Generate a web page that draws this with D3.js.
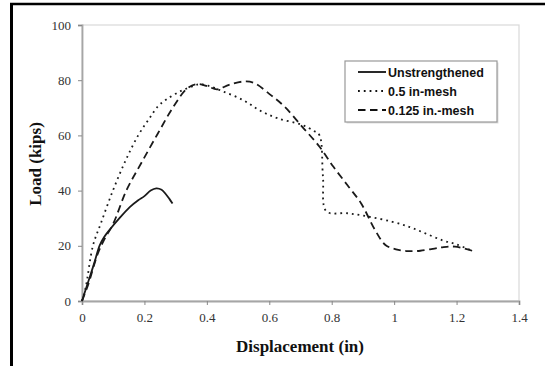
<!DOCTYPE html>
<html>
<head>
<meta charset="utf-8">
<script src="https://cdn.jsdelivr.net/npm/d3@7"></script>
<style>
  html, body { margin: 0; padding: 0; background: #fff; }
  svg { display: block; }
  .axis text { font-family: "Liberation Serif", "Times New Roman", serif; font-size: 13px; fill: #333; }
</style>
</head>
<body>
<svg id="chart" width="545" height="366"></svg>
<script>
// ---- data ----
const xTicks = [0, 0.2, 0.4, 0.6, 0.8, 1, 1.2, 1.4];
const yTicks = [0, 20, 40, 60, 80, 100];
const seriesNames = ["Unstrengthened", "0.5 in-mesh", "0.125 in.-mesh"];

const unstrX = [0, 0.02, 0.04, 0.056, 0.07, 0.09, 0.12, 0.153, 0.18, 0.2, 0.22, 0.238, 0.255, 0.27, 0.28, 0.29];
const unstrY = [0, 7, 14, 20, 23, 26, 30, 34, 36.5, 38, 40, 40.8, 40.3, 38.5, 37, 35.3];

const mesh05X = [0, 0.012, 0.035, 0.06, 0.099, 0.14, 0.18, 0.215, 0.243, 0.27, 0.315, 0.36, 0.375, 0.404, 0.45, 0.516, 0.57, 0.627, 0.705, 0.745, 0.761, 0.772, 0.783, 0.85, 0.917, 0.994, 1.05, 1.1, 1.157, 1.2, 1.25];
const mesh05Y = [0, 5, 20, 28, 40, 51, 60, 66, 70.5, 73, 76, 78, 78.5, 78, 76, 72.8, 69, 66.2, 63.8, 61.5, 60, 45, 32.5, 31.8, 30.6, 28.7, 26.8, 24.5, 21.9, 20.5, 18.2];

const mesh0125X = [0, 0.02, 0.05, 0.07, 0.1, 0.142, 0.19, 0.243, 0.293, 0.337, 0.371, 0.404, 0.432, 0.471, 0.516, 0.549, 0.605, 0.649, 0.705, 0.761, 0.805, 0.85, 0.894, 0.939, 0.972, 1.006, 1.039, 1.084, 1.15, 1.195, 1.25];
const mesh0125Y = [0, 6, 17, 22, 28, 40, 50, 60.7, 70.4, 77, 78.6, 77.7, 76.7, 78.3, 79.5, 79.1, 74.6, 70.4, 63.2, 55.9, 48.7, 42, 35.4, 25.7, 20.3, 18.7, 18.1, 18.2, 19.4, 19.7, 18.2];

// ---- layout ----
const svg = d3.select("#chart");
const mLeft = 82, mRight = 519, mTop = 25, mBottom = 301;

const x = d3.scaleLinear().domain([0, 1.4]).range([mLeft, mRight]);
const y = d3.scaleLinear().domain([0, 100]).range([mBottom, mTop]);

// outer frame (left and top edges visible)
svg.append("line").attr("x1", 11.5).attr("x2", 11.5).attr("y1", 3).attr("y2", 366)
  .attr("stroke", "#000").attr("stroke-width", 3);
svg.append("line").attr("x1", 10).attr("x2", 545).attr("y1", 4).attr("y2", 4)
  .attr("stroke", "#000").attr("stroke-width", 2.5);

// plot area border (top/right light gray)
svg.append("rect").attr("x", mLeft).attr("y", mTop).attr("width", mRight - mLeft).attr("height", mBottom - mTop)
  .attr("fill", "none").attr("stroke", "#d9d9d9").attr("stroke-width", 1.2);

// axes
const xAxis = d3.axisBottom(x).tickValues(xTicks).tickSize(4).tickPadding(8)
  .tickFormat(d => d3.format("")(d));
const yAxis = d3.axisLeft(y).tickValues(yTicks).tickSize(4).tickPadding(7);

const gx = svg.append("g").attr("class", "axis").attr("transform", `translate(0,${mBottom})`).call(xAxis);
const gy = svg.append("g").attr("class", "axis").attr("transform", `translate(${mLeft},0)`).call(yAxis);
[gx, gy].forEach(g => {
  g.attr("font-family", null).attr("font-size", null);
  g.select(".domain").attr("stroke", "#a6a6a6").attr("stroke-width", 1.8);
  g.selectAll(".tick line").attr("stroke", "#888").attr("stroke-width", 1);
});

// axis titles
svg.append("text").attr("x", 300).attr("y", 352).attr("text-anchor", "middle")
  .style("font-family", "'Liberation Serif', 'Times New Roman', serif").style("font-weight", "bold")
  .style("font-size", "17px").attr("fill", "#111").text("Displacement (in)");
svg.append("text").attr("transform", "translate(41,164) rotate(-90)").attr("text-anchor", "middle")
  .style("font-family", "'Liberation Serif', 'Times New Roman', serif").style("font-weight", "bold")
  .style("font-size", "17px").attr("fill", "#111").text("Load (kips)");

// series
const series = [
  { pts: unstrX.map((v, i) => [v, unstrY[i]]), dash: null, w: 1.8 },
  { pts: mesh05X.map((v, i) => [v, mesh05Y[i]]), dash: "1.8,4", w: 1.8 },
  { pts: mesh0125X.map((v, i) => [v, mesh0125Y[i]]), dash: "7.5,4.5", w: 1.8 }
];
const plain = d3.line().x(d => x(d[0])).y(d => y(d[1])).curve(d3.curveCatmullRom.alpha(0.5));
series.forEach(s => {
  svg.append("path").attr("d", plain(s.pts)).attr("fill", "none")
    .attr("stroke", "#1a1a1a").attr("stroke-width", s.w)
    .attr("stroke-dasharray", s.dash);
});

// legend
const lg = svg.append("g");
lg.append("rect").attr("x", 346.5).attr("y", 62.5).attr("width", 152).attr("height", 61).attr("fill", "#ddd");
lg.append("rect").attr("x", 345).attr("y", 61).attr("width", 152).attr("height", 61)
  .attr("fill", "#fff").attr("stroke", "#999").attr("stroke-width", 1.2);
seriesNames.forEach((name, i) => {
  const yy = 72 + i * 19;
  lg.append("line").attr("x1", 358).attr("x2", 386).attr("y1", yy).attr("y2", yy)
    .attr("stroke", "#111").attr("stroke-width", series[i].w).attr("stroke-dasharray", series[i].dash);
  lg.append("text").attr("x", 388).attr("y", yy + 4.5)
    .style("font-family", "'Liberation Sans', Arial, sans-serif")
    .style("font-weight", "bold").style("font-size", "12.5px").attr("fill", "#111").text(name);
});
</script>
</body>
</html>
